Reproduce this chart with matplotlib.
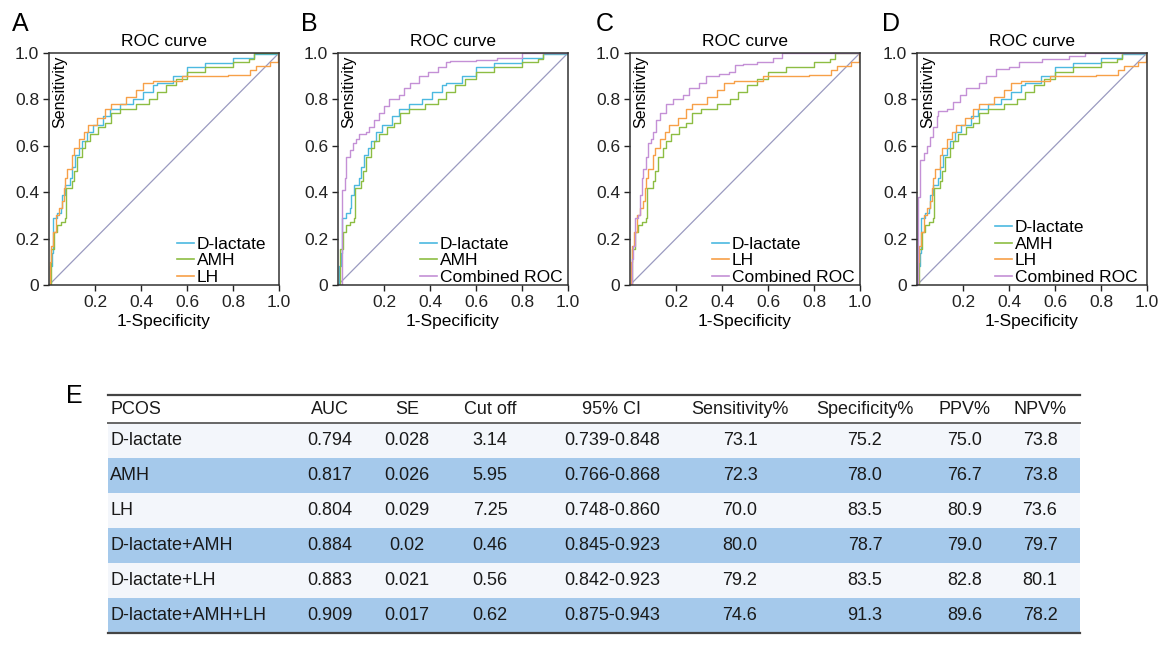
import matplotlib
matplotlib.use('Agg')
import matplotlib.pyplot as plt
from matplotlib.lines import Line2D
from matplotlib.patches import Rectangle

plt.rcParams['font.family'] = ['Liberation Sans', 'DejaVu Sans']

# ROC curve points (fpr, tpr)
dlac_fpr = [0, 0.005, 0.014, 0.019, 0.036, 0.05, 0.057, 0.071, 0.093, 0.10, 0.114, 0.13, 0.143, 0.164,
            0.193, 0.236, 0.264, 0.307, 0.364, 0.407, 0.45, 0.47, 0.54, 0.60, 0.68, 0.80, 0.89, 1.0]
dlac_tpr = [0, 0.08, 0.14, 0.29, 0.31, 0.33, 0.39, 0.43, 0.46, 0.51, 0.56, 0.59, 0.62, 0.66,
            0.69, 0.73, 0.76, 0.78, 0.80, 0.83, 0.86, 0.87, 0.90, 0.94, 0.957, 0.978, 0.995, 1.0]

amh_fpr = [0, 0.007, 0.02, 0.036, 0.05, 0.071, 0.076, 0.10, 0.107, 0.12, 0.143, 0.157, 0.18, 0.214,
           0.243, 0.27, 0.307, 0.379, 0.436, 0.47, 0.51, 0.55, 0.60, 0.68, 0.80, 0.87, 0.89, 1.0]
amh_tpr = [0, 0.156, 0.23, 0.26, 0.27, 0.29, 0.42, 0.45, 0.49, 0.55, 0.59, 0.62, 0.65, 0.68,
           0.70, 0.74, 0.76, 0.78, 0.80, 0.83, 0.86, 0.89, 0.92, 0.94, 0.96, 0.975, 1.0, 1.0]

lh_fpr = [0, 0.005, 0.01, 0.019, 0.03, 0.043, 0.057, 0.064, 0.071, 0.079, 0.10, 0.107, 0.129, 0.15,
          0.171, 0.207, 0.243, 0.27, 0.336, 0.379, 0.407, 0.45, 0.58, 0.78, 0.874, 0.90, 0.96, 0.995, 1.0]
lh_tpr = [0, 0.10, 0.17, 0.23, 0.30, 0.33, 0.36, 0.42, 0.46, 0.50, 0.56, 0.59, 0.63, 0.66,
          0.69, 0.72, 0.76, 0.78, 0.81, 0.84, 0.87, 0.88, 0.90, 0.905, 0.927, 0.945, 0.96, 1.0, 1.0]

combB_fpr = [0.015, 0.019, 0.029, 0.036, 0.05, 0.064, 0.079, 0.093, 0.121, 0.136, 0.157, 0.179, 0.20,
             0.221, 0.264, 0.286, 0.314, 0.35, 0.393, 0.436, 0.47, 0.485, 0.60, 0.69, 0.80, 1.0]
combB_tpr = [0, 0.41, 0.46, 0.55, 0.58, 0.61, 0.63, 0.65, 0.66, 0.68, 0.71, 0.74, 0.77,
             0.80, 0.82, 0.85, 0.87, 0.90, 0.92, 0.94, 0.96, 0.964, 0.97, 0.98, 1.0, 1.0]

combC_fpr = [0, 0.007, 0.014, 0.021, 0.036, 0.043, 0.05, 0.057, 0.071, 0.079, 0.093, 0.10, 0.114, 0.129,
             0.157, 0.186, 0.229, 0.257, 0.30, 0.33, 0.386, 0.43, 0.457, 0.49, 0.55, 0.62, 0.66, 1.0]
combC_tpr = [0, 0.11, 0.17, 0.29, 0.30, 0.39, 0.46, 0.50, 0.55, 0.61, 0.63, 0.66, 0.71, 0.74,
             0.78, 0.80, 0.82, 0.85, 0.87, 0.90, 0.91, 0.92, 0.95, 0.954, 0.96, 0.98, 1.0, 1.0]

combD_fpr = [0, 0.003, 0.011, 0.014, 0.029, 0.043, 0.057, 0.071, 0.086, 0.093, 0.129, 0.157, 0.186,
             0.214, 0.271, 0.30, 0.343, 0.40, 0.443, 0.545, 0.66, 0.73, 1.0]
combD_tpr = [0, 0.38, 0.45, 0.54, 0.57, 0.60, 0.64, 0.68, 0.73, 0.75, 0.76, 0.79, 0.82,
             0.85, 0.87, 0.90, 0.93, 0.94, 0.96, 0.976, 0.986, 1.0, 1.0]

# table E
tab_header = ["PCOS", "AUC", "SE", "Cut off", "95% CI", "Sensitivity%", "Specificity%", "PPV%", "NPV%"]
tab_names = ["D-lactate", "AMH", "LH", "D-lactate+AMH", "D-lactate+LH", "D-lactate+AMH+LH"]
tab_auc = ["0.794", "0.817", "0.804", "0.884", "0.883", "0.909"]
tab_se = ["0.028", "0.026", "0.029", "0.02", "0.021", "0.017"]
tab_cut = ["3.14", "5.95", "7.25", "0.46", "0.56", "0.62"]
tab_ci = ["0.739-0.848", "0.766-0.868", "0.748-0.860", "0.845-0.923", "0.842-0.923", "0.875-0.943"]
tab_sens = ["73.1", "72.3", "70.0", "80.0", "79.2", "74.6"]
tab_spec = ["75.2", "78.0", "83.5", "78.7", "83.5", "91.3"]
tab_ppv = ["75.0", "76.7", "80.9", "79.0", "82.8", "89.6"]
tab_npv = ["73.8", "73.8", "73.6", "79.7", "80.1", "78.2"]

c_dlac = '#4cb9e0'
c_amh = '#8dbd43'
c_lh = '#f7a048'
c_comb = '#c490d6'
c_diag = '#9a9ac0'

W, H = 1172, 651
fig = plt.figure(figsize=(W / 100, H / 100), dpi=100)

# overlay in pixel coords for letters + table
ov = fig.add_axes([0, 0, 1, 1])
ov.set_xlim(0, W)
ov.set_ylim(H, 0)
ov.axis('off')


def setup_ax(left_px):
    ax = fig.add_axes([left_px / W, 1 - 285 / H, 230 / W, 232 / H])
    ax.set_xlim(0, 1)
    ax.set_ylim(0, 1)
    ax.plot([0, 1], [0, 1], color=c_diag, lw=0.9)
    ax.set_xticks([0.2, 0.4, 0.6, 0.8, 1.0])
    ax.set_xticklabels(['0.2', '0.4', '0.6', '0.8', '1.0'])
    ax.set_yticks([0, 0.2, 0.4, 0.6, 0.8, 1.0])
    ax.set_yticklabels(['0', '0.2', '0.4', '0.6', '0.8', '1.0'])
    ax.tick_params(direction='out', length=4, width=1, labelsize=12.5, pad=3, colors='#222222')
    for sp in ax.spines.values():
        sp.set_color('#333333')
        sp.set_linewidth(1.1)
    ax.set_title('ROC curve', fontsize=12.5, pad=5)
    ax.set_xlabel('1-Specificity', fontsize=12.5, labelpad=3)
    ax.text(0.015, 0.99, 'Sensitivity', rotation=90, va='top', ha='left',
            transform=ax.transAxes, fontsize=11.5)
    return ax


def curve(ax, x, y, c):
    ax.plot(x, y, color=c, lw=1.0, drawstyle='steps-post')


def legend(ax, items, x0):
    hs = [Line2D([], [], color=c, lw=1.2) for c, _ in items]
    ax.legend(hs, [l for _, l in items], loc='lower left', bbox_to_anchor=(x0, 0.0),
              frameon=False, fontsize=12.5, handlelength=1.0, handletextpad=0.15,
              labelspacing=0.08, borderpad=0, borderaxespad=0)


axA = setup_ax(49)
curve(axA, dlac_fpr, dlac_tpr, c_dlac)
curve(axA, amh_fpr, amh_tpr, c_amh)
curve(axA, lh_fpr, lh_tpr, c_lh)
legend(axA, [(c_dlac, 'D-lactate'), (c_amh, 'AMH'), (c_lh, 'LH')], 0.556)

axB = setup_ax(338)
curve(axB, dlac_fpr, dlac_tpr, c_dlac)
curve(axB, amh_fpr, amh_tpr, c_amh)
curve(axB, combB_fpr, combB_tpr, c_comb)
legend(axB, [(c_dlac, 'D-lactate'), (c_amh, 'AMH'), (c_comb, 'Combined ROC')], 0.357)

axC = setup_ax(630)
curve(axC, amh_fpr, amh_tpr, c_amh)
curve(axC, lh_fpr, lh_tpr, c_lh)
curve(axC, combC_fpr, combC_tpr, c_comb)
legend(axC, [(c_dlac, 'D-lactate'), (c_lh, 'LH'), (c_comb, 'Combined ROC')], 0.355)

axD = setup_ax(917)
curve(axD, dlac_fpr, dlac_tpr, c_dlac)
curve(axD, amh_fpr, amh_tpr, c_amh)
curve(axD, lh_fpr, lh_tpr, c_lh)
curve(axD, combD_fpr, combD_tpr, c_comb)
legend(axD, [(c_dlac, 'D-lactate'), (c_amh, 'AMH'), (c_lh, 'LH'), (c_comb, 'Combined ROC')], 0.338)

for lt, x in zip(['A', 'B', 'C', 'D'], [12, 301, 596, 882]):
    ov.text(x, 24, lt, fontsize=18, ha='left', va='center')
ov.text(66, 396, 'E', fontsize=18, ha='left', va='center')

# table
x0, x1 = 108, 1080
top, head_bot, row_h = 395, 423, 35
col_x = [110, 330, 407, 490, 612, 740, 865, 965, 1040]
rows = list(zip(tab_names, tab_auc, tab_se, tab_cut, tab_ci, tab_sens, tab_spec, tab_ppv, tab_npv))
for i, r in enumerate(rows):
    y = head_bot + i * row_h
    fc = '#a5c9eb' if i % 2 else '#f3f6fb'
    ov.add_patch(Rectangle((x0, y), x1 - x0, row_h, facecolor=fc, edgecolor='none'))
    for j, val in enumerate(r):
        ov.text(col_x[j], y + row_h / 2, val, fontsize=13, va='center',
                ha='left' if j == 0 else 'center', color='#1a1a1a')
for j, h in enumerate(tab_header):
    ov.text(col_x[j], (top + head_bot) / 2, h, fontsize=13, va='center',
            ha='left' if j == 0 else 'center', color='#1a1a1a')
bottom = head_bot + len(rows) * row_h
ov.plot([x0, x1], [top, top], color='#444444', lw=1.6)
ov.plot([x0, x1], [head_bot, head_bot], color='#666666', lw=1.4)
ov.plot([x0, x1], [bottom, bottom], color='#444444', lw=1.6)

fig.savefig('out.png', dpi=100)
